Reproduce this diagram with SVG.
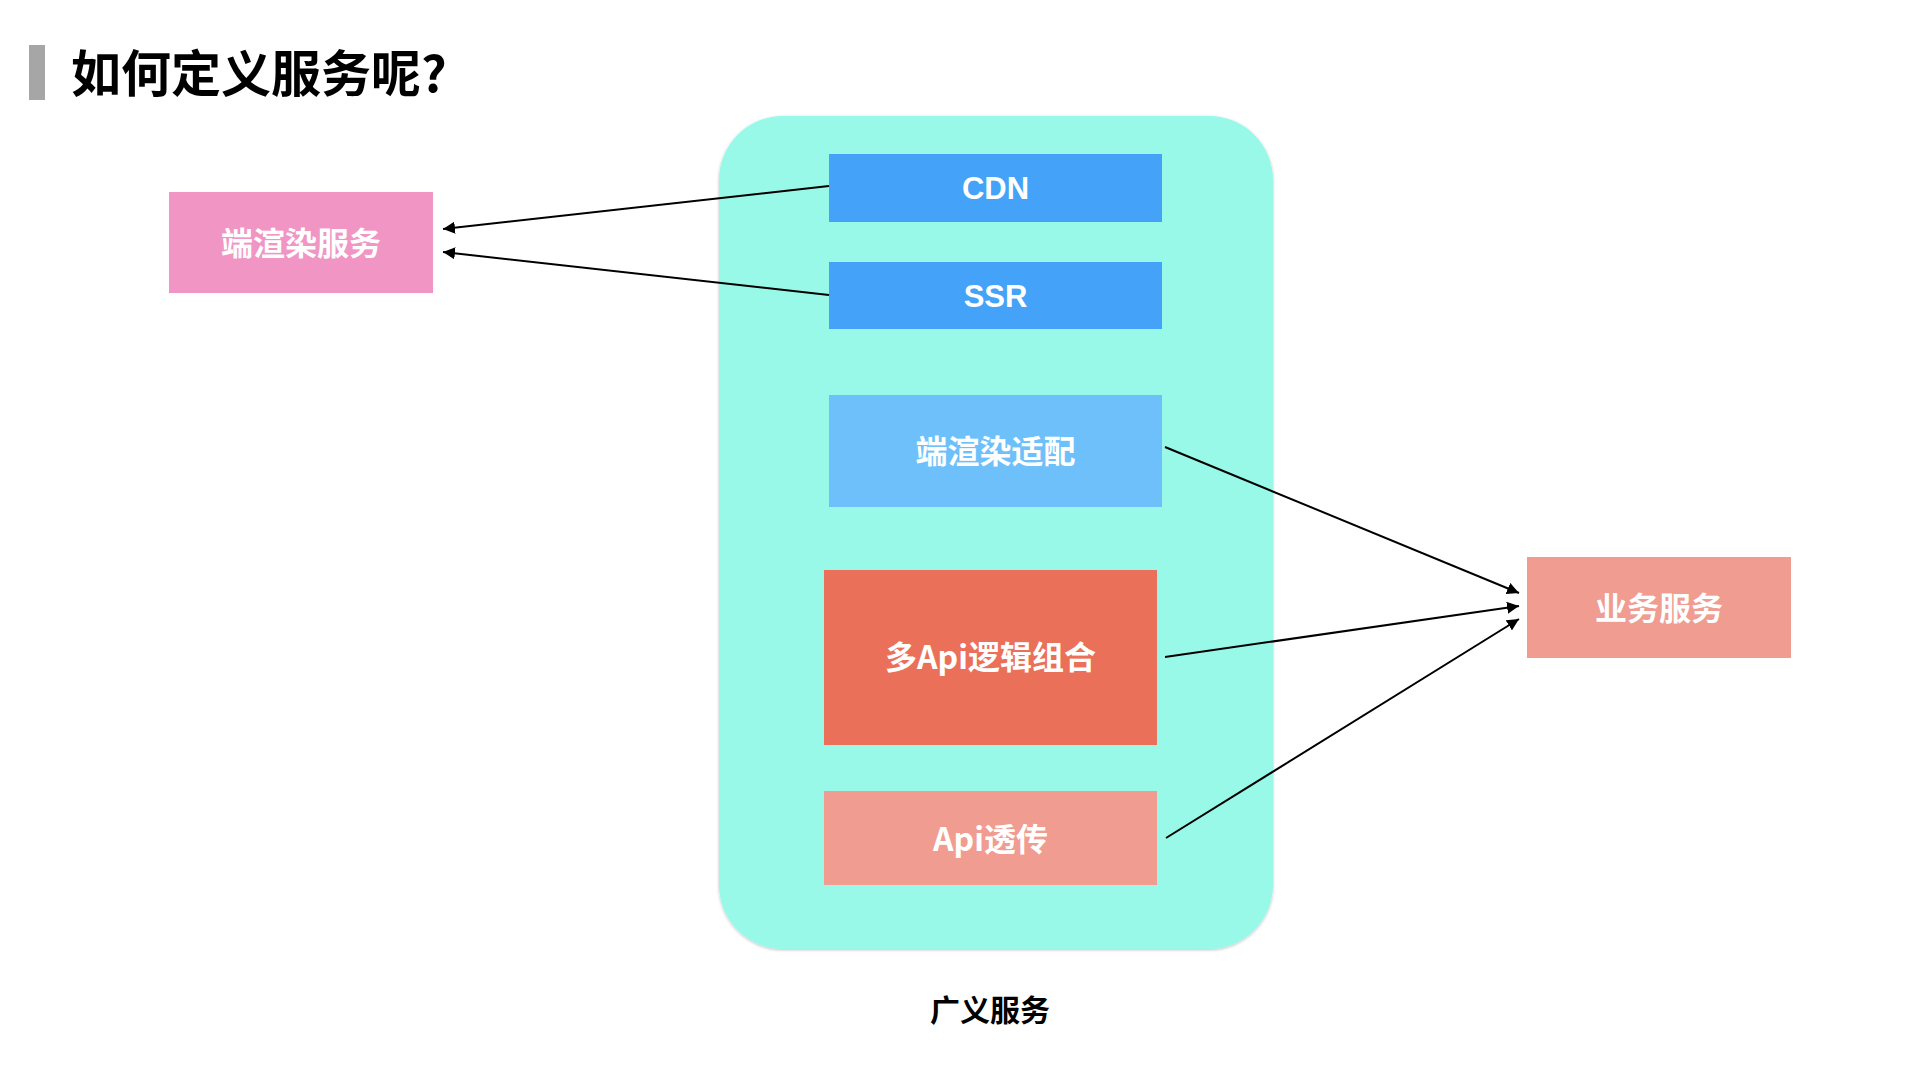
<svg xmlns="http://www.w3.org/2000/svg" width="1920" height="1080" viewBox="0 0 1920 1080">
<defs>
<style>
.t{font-family:"Noto Sans CJK SC","Liberation Sans",sans-serif;font-weight:700;fill:#fff;font-size:32px;text-anchor:middle}
.lat{font-family:"Liberation Sans","Noto Sans CJK SC",sans-serif;font-weight:700;fill:#fff;font-size:31px;text-anchor:middle}
.edge{stroke:#000;stroke-width:2;fill:none;marker-end:url(#ah)}
</style>
<marker id="ah" viewBox="0 0 10 10" refX="10" refY="5" markerWidth="6" markerHeight="6" markerUnits="strokeWidth" orient="auto">
<path d="M0,0 L10,5 L0,10 Z" fill="#000"/>
</marker>
<filter id="sh" x="-5%" y="-5%" width="110%" height="110%">
<feDropShadow dx="0" dy="1" stdDeviation="1.5" flood-color="#000" flood-opacity="0.25"/>
</filter>
</defs>
<rect width="1920" height="1080" fill="#fff"/>
<g id="title">
<rect x="29" y="45" width="16" height="55" fill="#a6a6a6"/>
<text x="71" y="92" font-family="Noto Sans CJK SC, sans-serif" font-weight="700" font-size="50" fill="#000">如何定义服务呢?</text>
</g>
<g id="container">
<rect x="719" y="116" width="554" height="833" rx="64" ry="64" fill="#98f9e8" filter="url(#sh)"/>
<text x="990" y="1021" font-family="Noto Sans CJK SC, sans-serif" font-weight="700" font-size="30" fill="#000" text-anchor="middle">广义服务</text>
</g>
<g id="render-service">
<rect x="169" y="192" width="264" height="101" fill="#f095c4"/>
<text class="t" x="301" y="255">端渲染服务</text>
</g>
<g id="cdn">
<rect x="829" y="154" width="333" height="68" fill="#44a2f8"/>
<text class="lat" x="995.5" y="199">CDN</text>
</g>
<g id="ssr">
<rect x="829" y="262" width="333" height="67" fill="#44a2f8"/>
<text class="lat" x="995.5" y="307">SSR</text>
</g>
<g id="render-adapt">
<rect x="829" y="395" width="333" height="112" fill="#6dc0fa"/>
<text class="t" x="995.5" y="463">端渲染适配</text>
</g>
<g id="multi-api">
<rect x="824" y="570" width="333" height="175" fill="#eb7059"/>
<text class="t" x="990.5" y="669">多Api逻辑组合</text>
</g>
<g id="api-pass">
<rect x="824" y="791" width="333" height="94" fill="#f09c90"/>
<text class="t" x="990.5" y="851">Api透传</text>
</g>
<g id="biz-service">
<rect x="1527" y="557" width="264" height="101" fill="#f09c90"/>
<text class="t" x="1659" y="620">业务服务</text>
</g>
<g id="connectors">
<line class="edge" x1="829" y1="186" x2="443" y2="229"/>
<line class="edge" x1="829" y1="295" x2="443" y2="252"/>
<line class="edge" x1="1165" y1="447" x2="1519" y2="593"/>
<line class="edge" x1="1165" y1="657" x2="1519" y2="606"/>
<line class="edge" x1="1166" y1="838" x2="1519" y2="619"/>
</g>
</svg>
